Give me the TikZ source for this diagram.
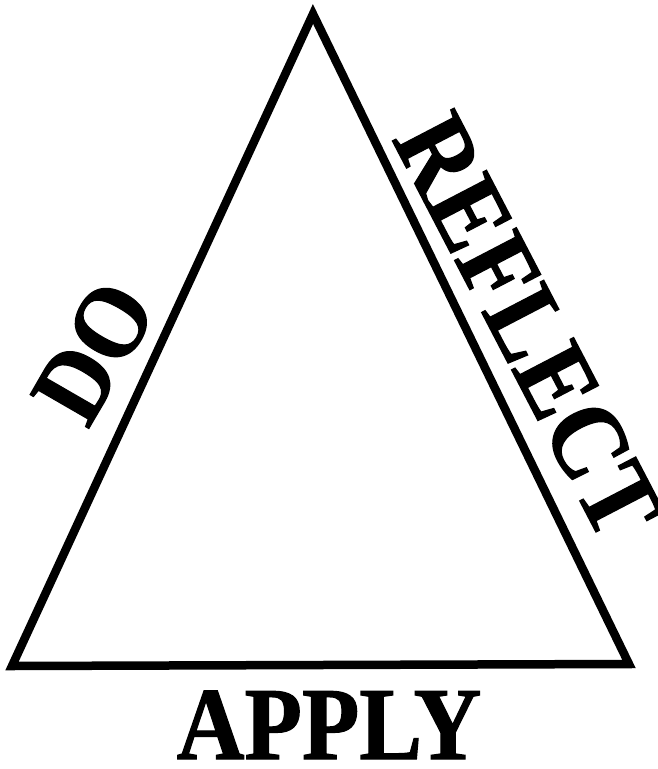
\documentclass[tikz,border=0pt]{standalone}
\usepackage{fontspec}
\setmainfont{Liberation Serif}[BoldFont={Liberation Serif Bold}, BoldFeatures={FakeBold=1.2}]
\tikzset{
  edge/.style={line width=8.5pt, line join=miter},
  word/.style={inner sep=0pt, font=\bfseries},
}
\begin{document}
\begin{tikzpicture}[x=1pt,y=-1pt]
\useasboundingbox (0,0) rectangle (658,769);
\coordinate (top) at (313,14);
\coordinate (bl) at (12,666);
\coordinate (br) at (629,664);
\draw[edge] (top) -- (br) -- (bl) -- cycle;
\node[word, anchor=base] (apply) at (329,759) {\scalebox{1}[1.1]{\fontsize{94}{94}\selectfont APPLY}};
\node[word, rotate=-62.5] (reflect) at (528,326) {\scalebox{1}[1.1]{\fontsize{97}{97}\selectfont REFLECT}};
\node[word, rotate=60] (do) at (94,352) {\scalebox{1}[1.1]{\fontsize{94}{94}\selectfont DO}};
\end{tikzpicture}
\end{document}
